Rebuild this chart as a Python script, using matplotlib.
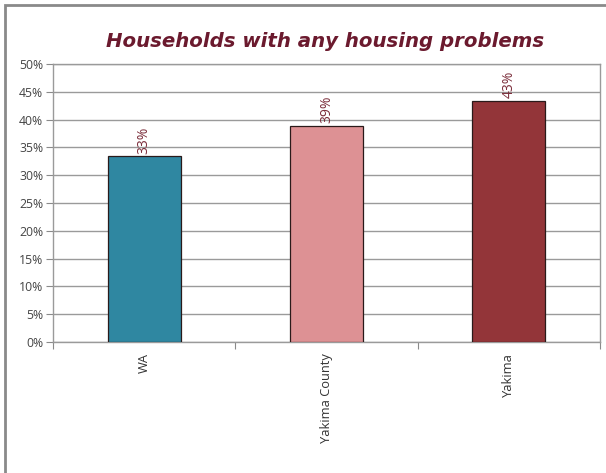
import matplotlib
matplotlib.use("Agg")
import matplotlib.pyplot as plt
from matplotlib.patches import Rectangle

# data
places = ["WA", "Yakima County", "Yakima"]
shares = [0.334, 0.389, 0.434]
bar_colors = ["#2F87A1", "#DD9194", "#933539"]
y_ticks = [0.0, 0.05, 0.10, 0.15, 0.20, 0.25, 0.30, 0.35, 0.40, 0.45, 0.50]

plt.rcParams["font.family"] = ["Open Sans", "DejaVu Sans"]

fig = plt.figure(figsize=(6.06, 4.73), dpi=100)
ax = fig.add_axes([0.0875, 0.277, 0.9025, 0.5877])

# outer frame around the whole chart
fig.patches.append(Rectangle((5 / 606, -0.1), 1.2, 1 - 5 / 473 + 0.1,
                             transform=fig.transFigure, fill=False,
                             edgecolor="#8a8a8a", linewidth=2))

x = list(range(len(places)))
ax.bar(x, shares, width=0.40, color=bar_colors, edgecolor="#2a1a1a",
       linewidth=0.9, zorder=3)

for xi, v in zip(x, shares):
    ax.annotate(f"{round(v * 100):.0f}%", (xi, v), xytext=(0, 2),
                textcoords="offset points", rotation=90, ha="center",
                va="bottom", fontsize=10, color="#7B2D3A")

ax.set_xlim(-0.5, len(places) - 0.5)
ax.set_ylim(0, 0.5)
ax.set_yticks(y_ticks)
ax.set_yticklabels([f"{round(t * 100)}%" for t in y_ticks])
ax.yaxis.grid(True, color="#9a9a9a", linewidth=1.0, zorder=0)

# category labels between boundary ticks
ax.set_xticks([-0.5, 0.5, 1.5, 2.5])
ax.set_xticklabels([])
ax.set_xticks(x, minor=True)
ax.set_xticklabels(places, minor=True, rotation=90, va="top")
ax.tick_params(axis="x", which="major", length=5, color="#8a8a8a",
               direction="out")
ax.tick_params(axis="x", which="minor", length=0, pad=8,
               labelsize=9.3, labelcolor="#333333")
ax.tick_params(axis="y", length=5, color="#8a8a8a", labelsize=8.8,
               labelcolor="#444444", pad=2)

for s in ax.spines.values():
    s.set_color("#9a9a9a")
    s.set_linewidth(1.0)

fig.text(0.537, 0.912, "Households with any housing problems",
         ha="center", va="center", fontsize=14.2, fontweight="bold",
         fontstyle="italic", color="#6B1A2E", family="DejaVu Sans")

fig.savefig("out.png", dpi=100)
